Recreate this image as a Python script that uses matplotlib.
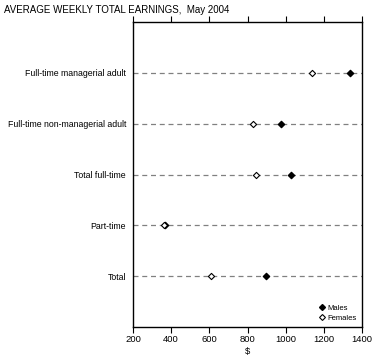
import matplotlib
matplotlib.use("Agg")
import matplotlib.pyplot as plt
from matplotlib.lines import Line2D

categories = ["Full-time managerial adult", "Full-time non-managerial adult",
              "Total full-time", "Part-time", "Total"]
males = [1335, 976, 1026, 368, 895]
females = [1140, 829, 846, 364, 607]
xticks = [200, 400, 600, 800, 1000, 1200, 1400]

plt.rcParams['font.family'] = ['Liberation Sans', 'DejaVu Sans']
fs = 6.3
fig = plt.figure(figsize=(3.78, 3.59), dpi=100)
ax = fig.add_axes([133/378, 1-327/359, (362-133)/378, (327-22)/359])

ypos = list(range(1, len(categories)+1))
for y in ypos:
    ax.axhline(y, color='#808080', lw=0.9, ls=(0, (4, 3)), zorder=1)

ax.scatter(males, ypos, marker='D', s=10, color='black', zorder=3, label='Males')
ax.scatter(females, ypos, marker='D', s=10, facecolor='white', edgecolor='black',
           linewidths=0.8, zorder=3, label='Females')

ax.set_xlim(200, 1400)
ax.set_ylim(len(categories)+1, 0)
ax.set_yticks(ypos)
ax.set_yticklabels(categories, fontsize=fs)
ax.tick_params(axis='y', length=0, pad=5)
ax.set_xticks(xticks)
ax.set_xticklabels([str(t) for t in xticks], fontsize=fs+0.5)
ax.tick_params(axis='x', which='major', top=True, bottom=True, direction='out',
               length=4, width=0.8, pad=2)
ax.set_xlabel('$', fontsize=fs+0.5, labelpad=2)
for s in ax.spines.values():
    s.set_linewidth(1.0)

handles = [Line2D([], [], marker='D', ls='none', color='black', markersize=3),
           Line2D([], [], marker='D', ls='none', markerfacecolor='white',
                  markeredgecolor='black', markersize=3, markeredgewidth=0.8)]
ax.legend(handles, ['Males', 'Females'], loc='lower right', frameon=False,
          fontsize=5.5, handletextpad=0.2, handlelength=1.0, borderaxespad=0.3,
          labelspacing=0.3)

fig.text(4/378, 1-10/359, 'AVERAGE WEEKLY TOTAL EARNINGS,  May 2004', fontsize=7,
         va='center', ha='left')
fig.savefig('out.png', dpi=100)
